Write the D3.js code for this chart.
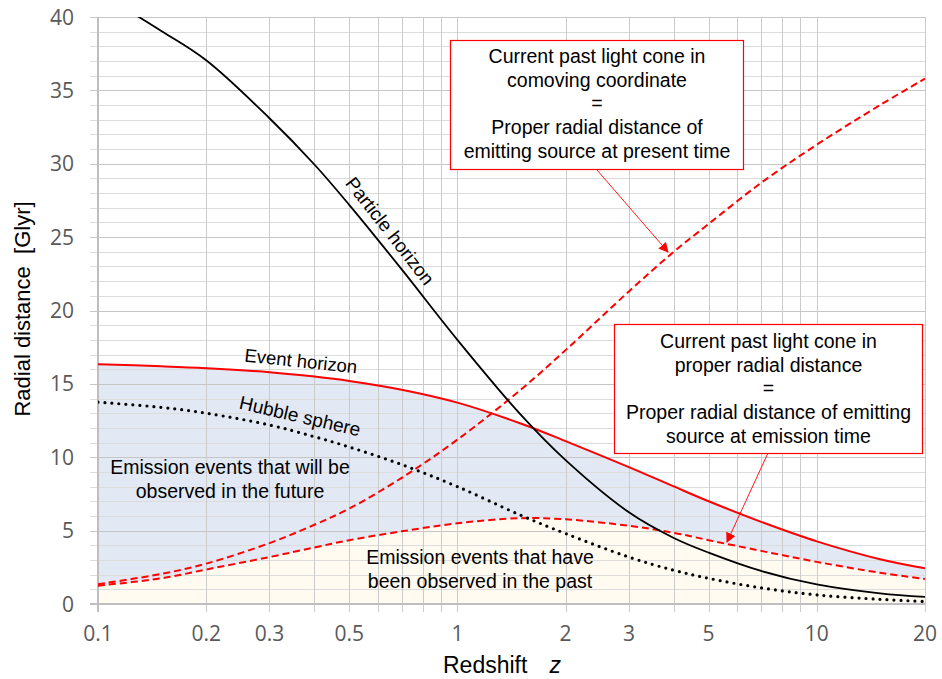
<!DOCTYPE html>
<html>
<head>
<meta charset="utf-8">
<script src="https://cdn.jsdelivr.net/npm/d3@7"></script>
<style>
html,body{margin:0;padding:0;background:#fff;}
svg{display:block;}
</style>
</head>
<body>
<svg id="chart" width="942" height="679"></svg>
<script>
// ---- data ----
const redshift = [0.1, 0.15, 0.2, 0.3, 0.4, 0.5, 0.7, 1, 1.5, 2, 3, 4, 5, 7, 10, 15, 20];
const particleHorizon = [41.7, 39.05, 37.05, 33.1, 29.95, 27.2, 22.8, 18.0, 12.9, 9.8, 6.25, 4.5, 3.5, 2.25, 1.33, 0.72, 0.48];
const eventHorizon = [16.34, 16.2, 16.07, 15.8, 15.5, 15.2, 14.6, 13.72, 12.3, 11.1, 9.33, 8.01, 7.0, 5.6, 4.27, 3.05, 2.43];
const hubbleSphere = [13.75, 13.4, 13.0, 12.2, 11.4, 10.7, 9.5, 8.0, 6.05, 4.8, 3.2, 2.3, 1.75, 1.1, 0.62, 0.32, 0.17];
const lightConeComoving = [1.35, 2.05, 2.75, 4.15, 5.4, 6.5, 8.6, 11.2, 14.6, 17.3, 21.3, 24.0, 25.9, 28.7, 31.3, 34.0, 35.8];
const lightConeProper = [1.25, 1.75, 2.35, 3.2, 3.85, 4.35, 4.95, 5.5, 5.85, 5.77, 5.33, 4.85, 4.35, 3.62, 2.87, 2.13, 1.70];

const xTickLabels = [0.1, 0.2, 0.3, 0.5, 1, 2, 3, 5, 10, 20];
const yTickLabels = [0, 5, 10, 15, 20, 25, 30, 35, 40];

const box1Lines = ["Current past light cone in", "comoving coordinate", "=", "Proper radial distance of", "emitting source at present time"];
const box2Lines = ["Current past light cone in", "proper radial distance", "=", "Proper radial distance of emitting", "source at emission time"];

// ---- layout ----
const svg = d3.select("#chart");
const L = 98, R = 925, T = 17, B = 604;
const x = d3.scaleLog().domain([0.1, 20]).range([L, R]);
const y = d3.scaleLinear().domain([0, 40]).range([B, T]);

const defs = svg.append("defs");
defs.append("clipPath").attr("id", "plotclip")
  .append("rect").attr("x", L).attr("y", T).attr("width", R - L).attr("height", B - T);
defs.append("marker").attr("id", "arrow").attr("viewBox", "0 0 10 10")
  .attr("refX", 9).attr("refY", 5).attr("markerWidth", 10).attr("markerHeight", 10)
  .attr("markerUnits", "userSpaceOnUse").attr("orient", "auto")
  .append("path").attr("d", "M0,0 L10,5 L0,10 Z").attr("fill", "#ff0000");

const rows = redshift.map((z, i) => ({
  z, ph: particleHorizon[i], eh: eventHorizon[i], hs: hubbleSphere[i],
  lc: lightConeComoving[i], lp: lightConeProper[i]
}));

const curve = d3.curveCatmullRom.alpha(0.5);
const fills = svg.append("g").attr("clip-path", "url(#plotclip)");

// fills
fills.append("path").datum(rows)
  .attr("d", d3.area().x(d => x(d.z)).y0(y(0)).y1(d => y(d.lp)).curve(curve))
  .attr("fill", "#fffbf0");
fills.append("path").datum(rows)
  .attr("d", d3.area().x(d => x(d.z)).y0(d => y(d.lp)).y1(d => y(d.eh)).curve(curve))
  .attr("fill", "#e3e9f4");

// grid
const grid = svg.append("g").attr("shape-rendering", "crispEdges");
d3.range(0, 41).forEach(v => {
  grid.append("line").attr("x1", L - 8).attr("x2", R).attr("y1", Math.round(y(v)) + 0.5).attr("y2", Math.round(y(v)) + 0.5)
    .attr("stroke", v % 5 === 0 ? "#c6c6c6" : "#dcdcdc").attr("stroke-width", 1);
});
x.ticks().forEach(v => {
  grid.append("line").attr("x1", Math.round(x(v)) + 0.5).attr("x2", Math.round(x(v)) + 0.5).attr("y1", T).attr("y2", B + 8)
    .attr("stroke", "#cbcbcb").attr("stroke-width", 1);
});
// axis lines
svg.append("line").attr("x1", L).attr("x2", L).attr("y1", T).attr("y2", B + 8)
  .attr("stroke", "#bfbfbf").attr("stroke-width", 2);
svg.append("line").attr("x1", L - 8).attr("x2", R).attr("y1", B).attr("y2", B)
  .attr("stroke", "#bfbfbf").attr("stroke-width", 2);

// tick labels
svg.append("g").selectAll("text").data(yTickLabels).join("text")
  .attr("x", 74).attr("y", d => y(d)).attr("dy", "0.36em")
  .attr("text-anchor", "end").attr("font-family", "'Open Sans'").attr("font-size", 21)
  .attr("fill", "#595959").text(d => d);
svg.append("g").selectAll("text").data(xTickLabels).join("text")
  .attr("x", d => x(d)).attr("y", 633).attr("dy", "0.36em")
  .attr("text-anchor", "middle").attr("font-family", "'Open Sans'").attr("font-size", 21)
  .attr("fill", "#595959").text(d => d);

// axis titles
svg.append("text").attr("transform", "translate(30,309) rotate(-90)")
  .attr("text-anchor", "middle").attr("font-family", "'Liberation Sans', Arial")
  .attr("font-size", 22).attr("fill", "#000").attr("xml:space", "preserve")
  .text("Radial distance  [Glyr]");
const xt = svg.append("text").attr("x", 443).attr("y", 673)
  .attr("font-family", "'Liberation Sans', Arial").attr("font-size", 23).attr("fill", "#000");
xt.append("tspan").text("Redshift");
xt.append("tspan").attr("dx", 22).attr("font-style", "italic").text("z");

// lines
const plot = svg.append("g").attr("clip-path", "url(#plotclip)");
const line = key => d3.line().x(d => x(d.z)).y(d => y(d[key])).curve(curve);
plot.append("path").datum(rows).attr("d", line("eh"))
  .attr("fill", "none").attr("stroke", "#ff0000").attr("stroke-width", 2);
plot.append("path").datum(rows).attr("d", line("lc"))
  .attr("fill", "none").attr("stroke", "#ff0000").attr("stroke-width", 2).attr("stroke-dasharray", "7,4");
plot.append("path").datum(rows).attr("d", line("lp"))
  .attr("fill", "none").attr("stroke", "#ff0000").attr("stroke-width", 2).attr("stroke-dasharray", "7,4");
plot.append("path").datum(rows).attr("d", line("hs"))
  .attr("fill", "none").attr("stroke", "#000").attr("stroke-width", 3.2)
  .attr("stroke-linecap", "round").attr("stroke-dasharray", "0,7");
plot.append("path").datum(rows).attr("d", line("ph"))
  .attr("fill", "none").attr("stroke", "#000").attr("stroke-width", 1.8);

// curve labels
const ann = svg.append("g").attr("font-family", "'Liberation Sans', Arial").attr("fill", "#000");
ann.append("text").attr("transform", "translate(390,231) rotate(52)")
  .attr("text-anchor", "middle").attr("dy", "0.35em").attr("font-size", 19).text("Particle horizon");
ann.append("text").attr("transform", "translate(301,361) rotate(6)")
  .attr("text-anchor", "middle").attr("dy", "0.35em").attr("font-size", 18.5).text("Event horizon");
ann.append("text").attr("transform", "translate(300,416) rotate(13)")
  .attr("text-anchor", "middle").attr("dy", "0.35em").attr("font-size", 19).text("Hubble sphere");
ann.append("text").attr("x", 230).attr("y", 474).attr("text-anchor", "middle").attr("font-size", 19.5)
  .text("Emission events that will be");
ann.append("text").attr("x", 230).attr("y", 498).attr("text-anchor", "middle").attr("font-size", 19.5)
  .text("observed in the future");
ann.append("text").attr("x", 480).attr("y", 564).attr("text-anchor", "middle").attr("font-size", 19.5)
  .text("Emission events that have");
ann.append("text").attr("x", 480).attr("y", 588).attr("text-anchor", "middle").attr("font-size", 19.5)
  .text("been observed in the past");

// arrows
svg.append("line").attr("x1", 597).attr("y1", 170).attr("x2", 668).attr("y2", 252)
  .attr("stroke", "#ff0000").attr("stroke-width", 0.9).attr("marker-end", "url(#arrow)");
svg.append("line").attr("x1", 768).attr("y1", 453).attr("x2", 727).attr("y2", 542)
  .attr("stroke", "#ff0000").attr("stroke-width", 0.9).attr("marker-end", "url(#arrow)");

// boxes
function box(x0, y0, w, h, lines, base) {
  const g = svg.append("g");
  g.append("rect").attr("x", x0).attr("y", y0).attr("width", w).attr("height", h)
    .attr("fill", "#fff").attr("stroke", "#ff0000").attr("stroke-width", 1.2);
  g.selectAll("text").data(lines).join("text")
    .attr("x", x0 + w / 2).attr("y", (d, i) => base + i * 23.7)
    .attr("text-anchor", "middle").attr("font-family", "'Liberation Sans', Arial")
    .attr("font-size", 19.5).attr("fill", "#000").text(d => d);
}
box(450.5, 40.5, 293, 129, box1Lines, 63);
box(614.5, 324.5, 308, 129, box2Lines, 348);
</script>
</body>
</html>
